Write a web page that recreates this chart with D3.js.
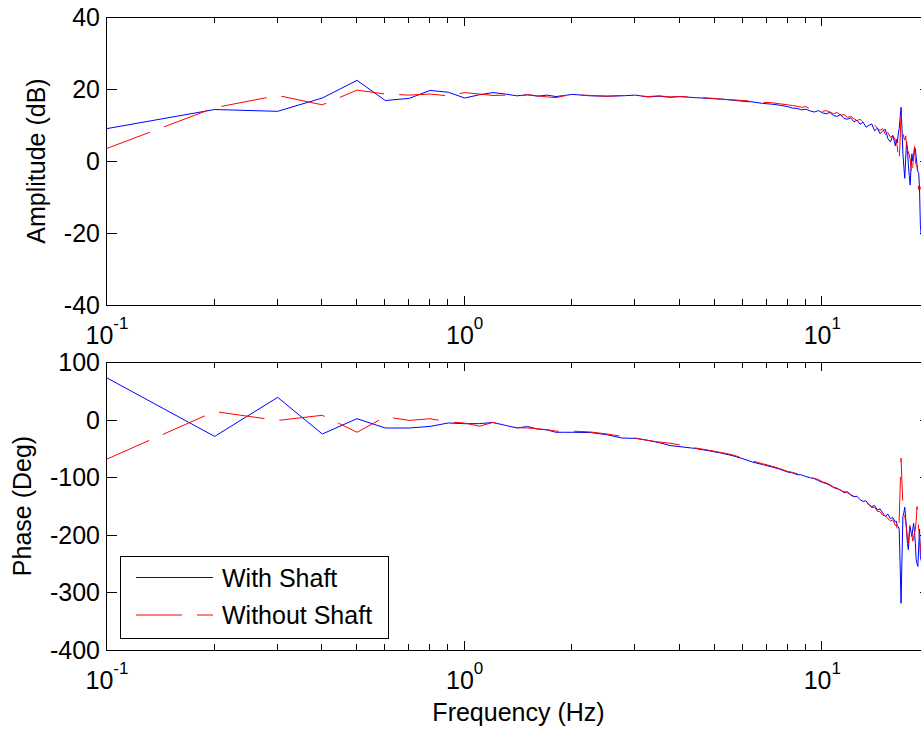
<!DOCTYPE html>
<html>
<head>
<meta charset="utf-8">
<script src="https://cdn.jsdelivr.net/npm/d3@7"></script>
<style>
  body { margin: 0; background: #fff; }
  svg { display: block; font-family: "Liberation Sans", Arial, Helvetica, sans-serif; }
</style>
</head>
<body>
<div id="chart"></div>
<script>
// Frequency bins (Hz)
const freqHz = [
  0.1, 0.2, 0.3, 0.4, 0.5, 0.6, 0.7, 0.8, 0.9, 1.0, 1.1, 1.2, 1.3, 1.4, 1.5, 1.6, 1.7, 1.8, 1.9, 2.0,
  2.25, 2.5, 2.75, 3.0, 3.25, 3.5, 3.75, 4.0,
  4.4, 4.8, 5.2, 5.6, 6.0, 6.4, 6.8, 7.2, 7.6, 8.0,
  8.25, 8.5, 8.75, 9.0, 9.25, 9.5, 9.75, 10.0, 10.25, 10.5, 10.75, 11.0, 11.25, 11.5, 11.75, 12.0,
  12.25, 12.5, 12.75, 13.0, 13.25, 13.5, 13.75, 14.0, 14.25, 14.5, 14.75, 15.0, 15.25, 15.5, 15.75, 16.0,
  16.1, 16.2, 16.3, 16.4, 16.5, 16.6, 16.7, 16.8, 16.9, 17.0, 17.1, 17.2, 17.3, 17.4, 17.5, 17.6, 17.7,
  17.8, 17.9, 18.0, 18.1, 18.2, 18.3, 18.4, 18.5, 18.6, 18.7, 18.8, 18.9
];

// Amplitude (dB)
const ampWithShaft = [
  9.0, 14.3, 13.8, 17.5, 22.4, 16.8, 17.4, 19.6, 19.1, 17.5, 18.4, 19.0, 18.6, 18.1, 18.4, 18.0, 18.3, 17.9, 18.2, 18.5,
  18.1, 18.0, 18.1, 18.3, 17.8, 18.0, 17.7, 17.9,
  17.6, 17.4, 17.2, 16.9, 16.6, 16.4, 16.0, 15.8, 15.5, 15.1,
  14.7, 14.6, 14.2, 14.4, 13.9, 13.6, 14.0, 13.4, 13.1, 13.5, 12.6, 12.4, 12.9, 11.8, 11.6, 12.0,
  10.9, 11.3, 10.2, 10.8, 9.4, 9.9, 10.3, 8.4, 9.1, 7.6, 8.3, 8.8, 6.2, 5.3, 7.1, 4.2,
  6.0, 5.0, 7.5, 9.0, 12.0, 14.9, 9.0, 2.0, -1.6, -4.8, 0.5, 5.4, 3.0, -1.0, -4.0, -6.7, -2.0,
  2.0, 0.0, 1.5, 3.0, 3.5, 1.0, -1.0, -3.0, -3.4, -8.0, -18.0, -20.5
];
const ampWithoutShaft = [
  3.5, 14.8, 18.2, 15.6, 19.7, 18.6, 18.3, 18.6, 18.1, 19.0, 18.6, 18.2, 18.3, 18.0, 18.4, 18.1, 17.8, 17.6, 18.1, 18.4,
  18.2, 18.0, 18.2, 18.2, 17.9, 18.1, 17.8, 17.9,
  17.7, 17.5, 17.2, 17.0, 16.8, 16.6, 16.3, 16.2, 15.9, 15.6,
  15.4, 15.2, 14.9, 15.1, 14.5, 14.2, 14.6, 13.8, 14.0, 13.6, 13.1, 13.5, 12.7, 12.9, 12.1, 12.4,
  11.8, 11.2, 11.6, 10.7, 10.9, 10.2, 9.6, 10.0, 9.1, 8.5, 9.0, 7.4, 7.9, 6.6, 7.0, 5.9,
  5.5, 4.0, 1.0, -0.2, 6.0, 12.8, 10.5, 8.0, 6.5, 5.8, 7.0, 4.5, 3.0, 2.5, 1.7, 0.5, -2.0,
  -4.4, -1.5, 2.0, 4.0, 0.3, -1.0, -1.6, -4.0, -8.0, -7.5, -7.3, -8.0
];

// Phase (Deg)
const phaseWithShaft = [
  72.3, -29.2, 38.6, -25.0, 1.6, -14.6, -14.6, -11.8, -5.9, -7.1, -7.0, -5.0, -10.0, -14.6, -12.0, -16.4, -18.0, -22.0, -22.0, -22.0,
  -22.5, -26.3, -32.0, -32.6, -36.0, -40.0, -45.0, -47.0,
  -50, -54, -58, -62.5, -68, -74, -78, -82, -86, -91,
  -92.5, -95.5, -96, -99, -101, -102.5, -106, -109, -111, -114, -118, -120, -122, -127, -125, -131,
  -134, -133, -139, -142, -141, -148, -151, -149, -157, -155, -162, -168, -164, -172, -170, -178,
  -176, -184, -186, -190, -250, -319, -240, -168, -162, -152, -170, -194, -215, -226, -200, -186, -195,
  -203, -190, -180, -195, -215, -243, -250, -255, -220, -190, -238, -245
];
const phaseWithoutShaft = [
  -68.5, 14.0, -1.5, 7.5, -22.0, 5.0, -1.4, 1.5, -4.0, -6.0, -11.5, -4.9, -11.0, -14.0, -14.6, -16.0, -17.5, -20.0, -21.0, -20.0,
  -21.5, -25, -29, -32, -36, -39, -41, -44,
  -49, -53, -57, -61, -67, -72, -76.5, -80.5, -85, -90,
  -91.5, -94, -96, -97.5, -100, -102, -104, -108, -110, -113, -117, -119, -123, -125, -127, -130,
  -133, -136, -137, -143, -145, -147, -153, -152, -159, -160, -166, -167, -172, -176, -174, -184,
  -182, -190, -197, -175, -120, -67, -110, -150, -162, -168, -177, -190, -209, -214, -195, -177, -185,
  -200, -211, -205, -197, -191, -175, -151, -170, -191, -205, -226, -230
];

// Axis ticks and labels
const ampTicks = [-40, -20, 0, 20, 40];
const phaseTicks = [-400, -300, -200, -100, 0, 100];
const decadeExps = [-1, 0, 1];
const seriesNames = ["With Shaft", "Without Shaft"];
const seriesColors = ["#0000ff", "#ff0000"];

const width = 921, height = 731;
const axLeft = 107, axRight = 930;  // right edge of the axes sits just past the window

const svg = d3.select("#chart").append("svg")
    .attr("width", width)
    .attr("height", height)
    .style("background", "#fff");

// Shared log x scale
const x = d3.scaleLog().domain([0.1, 20]).range([axLeft, axRight]);

function drawPanel(id, y0, y1, domain, yTicks, series, labelText, labelX) {
    const y = d3.scaleLinear().domain(domain).range([y1, y0]);

    svg.append("clipPath").attr("id", "clip-" + id)
        .append("rect")
        .attr("x", axLeft).attr("y", y0)
        .attr("width", axRight - axLeft).attr("height", y1 - y0);

    const line = d3.line()
        .x(d => x(d[0]))
        .y(d => y(d[1]));

    // Data lines
    series.forEach((vals, i) => {
        svg.append("path")
            .datum(freqHz.map((f, k) => [f, vals[k]]))
            .attr("clip-path", "url(#clip-" + id + ")")
            .attr("fill", "none")
            .attr("stroke", seriesColors[i])
            .attr("stroke-width", 1)
            .attr("stroke-dasharray", i === 1 ? "46,15" : null)
            .attr("d", line);
    });

    const g = svg.append("g").attr("stroke", "#000").attr("stroke-width", 1);

    // Box
    g.append("rect")
        .attr("x", axLeft - 0.5).attr("y", y0 + 0.5)
        .attr("width", axRight - axLeft).attr("height", y1 - y0)
        .attr("fill", "none");

    // y ticks, inward on both sides
    yTicks.forEach(t => {
        const ty = Math.round(y(t)) + 0.5;
        g.append("line").attr("x1", axLeft).attr("x2", axLeft + 10).attr("y1", ty).attr("y2", ty);
        g.append("line").attr("x1", axRight - 10).attr("x2", axRight).attr("y1", ty).attr("y2", ty);
        svg.append("text")
            .attr("x", axLeft - 7)
            .attr("y", y(t))
            .attr("dy", "0.36em")
            .attr("text-anchor", "end")
            .style("font-size", "25px")
            .text(t);
    });

    // x ticks: decades long, the rest short
    x.ticks().forEach(t => {
        const isMajor = Math.abs(Math.log10(t) - Math.round(Math.log10(t))) < 1e-6;
        const len = isMajor ? 9 : 6;
        const tx = Math.round(x(t)) - 0.5;
        g.append("line").attr("x1", tx).attr("x2", tx).attr("y1", y1).attr("y2", y1 - len);
        g.append("line").attr("x1", tx).attr("x2", tx).attr("y1", y0).attr("y2", y0 + len);
    });

    // Decade labels 10^n
    decadeExps.forEach(e => {
        const txt = svg.append("text")
            .attr("x", x(Math.pow(10, e)))
            .attr("y", y1 + 39)
            .attr("text-anchor", "middle")
            .style("font-size", "25px");
        txt.append("tspan").text("10");
        txt.append("tspan").attr("dy", -15).style("font-size", "17px").text(e);
    });

    // y label
    svg.append("text")
        .attr("transform", "translate(" + labelX + "," + ((y0 + y1) / 2) + ") rotate(-90)")
        .attr("text-anchor", "middle")
        .style("font-size", "25px")
        .text(labelText);

    return y;
}

drawPanel("amp", 17, 305, [-40, 40], ampTicks,
    [ampWithShaft, ampWithoutShaft], "Amplitude (dB)", 44.5);
drawPanel("phase", 362, 650, [-400, 100], phaseTicks,
    [phaseWithShaft, phaseWithoutShaft], "Phase (Deg)", 30.5);

// x label
svg.append("text")
    .attr("x", (axLeft + axRight) / 2)
    .attr("y", 721)
    .attr("text-anchor", "middle")
    .style("font-size", "25px")
    .text("Frequency (Hz)");

// Legend
const legend = svg.append("g");
legend.append("rect")
    .attr("x", 120.5).attr("y", 556.5)
    .attr("width", 268).attr("height", 82)
    .attr("fill", "#fff").attr("stroke", "#000").attr("stroke-width", 1);

const legendRows = [577.5, 615];
seriesNames.forEach((name, i) => {
    legend.append("line")
        .attr("x1", 136).attr("x2", 213)
        .attr("y1", legendRows[i]).attr("y2", legendRows[i])
        .attr("stroke", seriesColors[i])
        .attr("stroke-width", 1)
        .attr("stroke-dasharray", i === 1 ? "46,15" : null);
    legend.append("text")
        .attr("x", 222)
        .attr("y", legendRows[i] + 9)
        .style("font-size", "25px")
        .text(name);
});
</script>
</body>
</html>
